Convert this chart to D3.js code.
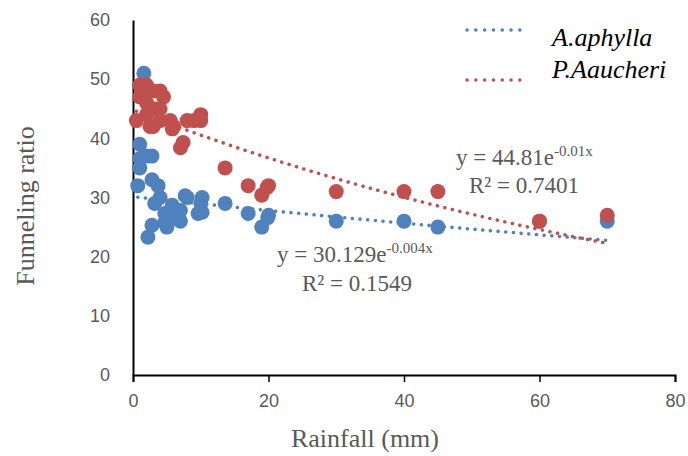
<!DOCTYPE html>
<html>
<head>
<meta charset="utf-8">
<script src="https://cdn.jsdelivr.net/npm/d3@7"></script>
<style>
  body { margin: 0; background: #fff; }
</style>
</head>
<body>
<svg id="chart" width="688" height="456"></svg>
<script>
// series values
const aphyllaX = [1.6, 1, 1, 1, 0.7, 2, 2.8, 2.8, 3.7, 3.2, 4, 7.7, 8, 10.2, 9.6, 10.2, 10, 2.2, 2.8, 4.7, 5, 6.2, 5.8, 7, 4.7, 6, 7, 13.6, 17, 19, 19.9, 20, 30, 40, 45, 60, 70];
const aphyllaY = [51, 39, 36.6, 35, 32, 37, 37, 33, 32, 29, 30, 30.3, 30, 30, 27.3, 27.5, 29, 23.3, 25.3, 25.8, 25, 26.5, 28.7, 27.8, 27.3, 27, 26, 29, 27.3, 25, 26.6, 27, 26, 26, 25, 26, 26];
const aucheriX = [1, 1.5, 2, 1, 2, 3, 4, 4.5, 2, 3, 4, 0.5, 2.5, 3, 4, 5.5, 6, 5.8, 7, 7.4, 8, 9, 10, 10, 13.6, 17, 19, 19.8, 20, 30, 40, 45, 60, 70];
const aucheriY = [49, 48, 49, 47, 46, 48, 48, 47, 44, 45, 45, 43, 42, 42, 43, 43, 42, 41.6, 38.4, 39.3, 43, 43, 44, 43, 35, 32, 30.4, 31.7, 32, 31, 31, 31, 26, 27];

// exponential trendlines y = a * e^(b x), coefficients from the labels
const seriesNames = ["A.aphylla", "P.Aaucheri"];
const trendA = [30.129, 44.81];
const trendB = [-0.004, -0.01];
const eqBase = ["y = 30.129e", "y = 44.81e"];
const eqExp = ["-0.004x", "-0.01x"];
const eqR2 = ["R² = 0.1549", "R² = 0.7401"];

const xTicks = [0, 20, 40, 60, 80];
const yTicks = [0, 10, 20, 30, 40, 50, 60];

const BLUE = "#4f81bd";
const RED = "#c0504d";
const GREY = "#595959";

const svg = d3.select("#chart");

const x = d3.scaleLinear().domain([0, 80]).range([133, 675]);
const y = d3.scaleLinear().domain([0, 60]).range([375, 20]);

// axes
const xAxis = svg.append("g")
  .attr("transform", `translate(0,${y(0)})`)
  .call(d3.axisBottom(x).tickValues(xTicks).tickSize(7).tickPadding(12));
const yAxis = svg.append("g")
  .attr("transform", `translate(${x(0)},0)`)
  .call(d3.axisLeft(y).tickValues(yTicks).tickSize(0).tickPadding(23));

[xAxis, yAxis].forEach(g => {
  g.select(".domain").attr("stroke", "#000").attr("stroke-width", 2);
  g.selectAll(".tick line").attr("stroke", "#000").attr("stroke-width", 1.5);
  g.selectAll(".tick text")
    .attr("fill", GREY)
    .style("font-family", "'Liberation Sans', Arial, sans-serif")
    .style("font-size", "18px");
});

// axis titles
svg.append("text")
  .attr("x", 365).attr("y", 447)
  .attr("text-anchor", "middle")
  .attr("fill", GREY)
  .style("font-family", "'Liberation Serif', 'Times New Roman', serif")
  .style("font-size", "26px")
  .text("Rainfall (mm)");

svg.append("text")
  .attr("transform", "translate(34,206) rotate(-90)")
  .attr("text-anchor", "middle")
  .attr("fill", GREY)
  .style("font-family", "'Liberation Serif', 'Times New Roman', serif")
  .style("font-size", "26px")
  .text("Funneling ratio");

// trendlines, drawn from min x to max x of each series
const xs = [aphyllaX, aucheriX];
const colors = [BLUE, RED];
const line = d3.line().x(d => x(d[0])).y(d => y(d[1]));

xs.forEach((arr, i) => {
  const lo = d3.min(arr), hi = d3.max(arr);
  const pts = d3.range(0, 101).map(k => {
    const v = lo + (hi - lo) * k / 100;
    return [v, trendA[i] * Math.exp(trendB[i] * v)];
  });
  svg.append("path")
    .attr("d", line(pts))
    .attr("fill", "none")
    .attr("stroke", colors[i])
    .attr("stroke-width", 3.5)
    .attr("stroke-linecap", "round")
    .attr("stroke-dasharray", "0.1 7.6");
});

// points
svg.append("g").selectAll("circle")
  .data(aphyllaX.map((v, i) => [v, aphyllaY[i]]))
  .join("circle")
  .attr("cx", d => x(d[0]))
  .attr("cy", d => y(d[1]))
  .attr("r", 7.5)
  .attr("fill", BLUE);

svg.append("g").selectAll("circle")
  .data(aucheriX.map((v, i) => [v, aucheriY[i]]))
  .join("circle")
  .attr("cx", d => x(d[0]))
  .attr("cy", d => y(d[1]))
  .attr("r", 7.5)
  .attr("fill", RED);

// trendline equations
const eqPos = [[277, 262, 302, 291], [456, 165, 469, 193]];
eqPos.forEach((p, i) => {
  const t = svg.append("text")
    .attr("x", p[0]).attr("y", p[1])
    .attr("fill", GREY)
    .style("font-family", "'Liberation Serif', 'Times New Roman', serif")
    .style("font-size", "23px");
  t.append("tspan").text(eqBase[i]);
  t.append("tspan").attr("dy", -9).style("font-size", "15px").text(eqExp[i]);
  svg.append("text")
    .attr("x", p[2]).attr("y", p[3])
    .attr("fill", GREY)
    .style("font-family", "'Liberation Serif', 'Times New Roman', serif")
    .style("font-size", "23px")
    .text(eqR2[i]);
});

// legend
const legLineY = [30, 80];
const legTextY = [46, 78];
seriesNames.forEach((name, i) => {
  svg.append("line")
    .attr("x1", 467).attr("x2", 528)
    .attr("y1", legLineY[i]).attr("y2", legLineY[i])
    .attr("stroke", colors[i])
    .attr("stroke-width", 3.5)
    .attr("stroke-linecap", "round")
    .attr("stroke-dasharray", "0.1 8.7");
  svg.append("text")
    .attr("x", 552).attr("y", legTextY[i])
    .attr("fill", "#000")
    .style("font-family", "'Liberation Serif', 'Times New Roman', serif")
    .style("font-style", "italic")
    .style("font-size", "26px")
    .text(name);
});
</script>
</body>
</html>
